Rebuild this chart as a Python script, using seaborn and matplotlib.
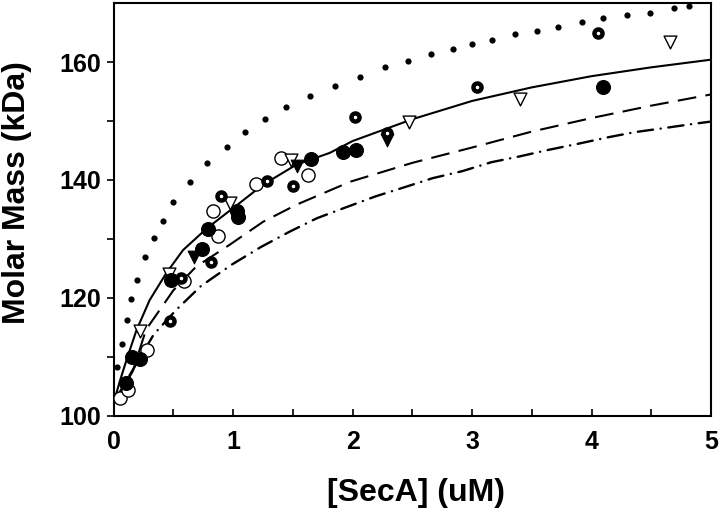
import matplotlib
matplotlib.use("Agg")
import matplotlib.pyplot as plt
import seaborn as sns

# fitted curves
solid_x = [0, 0.05, 0.106, 0.19, 0.30, 0.44, 0.58, 0.78, 1.055, 1.25, 1.53, 1.81, 2.0, 2.5, 3.0, 3.5, 4.0, 4.5, 5.0]
solid_y = [102.3, 105.8, 109.4, 114.5, 119.6, 124.2, 128.1, 131.8, 136.1, 139.2, 142.6, 144.6, 146.6, 150.3, 153.4, 155.7, 157.6, 159.1, 160.4]

dash_x = [0, 0.05, 0.16, 0.27, 0.50, 0.69, 0.97, 1.25, 1.53, 1.98, 2.5, 3.0, 3.5, 4.0, 4.5, 5.0]
dash_y = [102.3, 103.6, 107.6, 114.6, 121.3, 125.3, 129.0, 132.9, 135.8, 139.7, 142.9, 145.5, 148.2, 150.5, 152.6, 154.5]

dashdot_x = [0, 0.335, 0.52, 0.73, 0.985, 1.23, 1.47, 1.70, 1.95, 2.19, 2.44, 2.67, 2.92,
             3.16, 3.40, 3.64, 3.88, 4.13, 4.36, 4.61, 4.85, 5.0]
dashdot_y = [102.3, 113.8, 117.9, 122.0, 125.6, 128.6, 131.2, 133.5, 135.4, 137.2, 138.8, 140.3, 141.5,
             143.0, 144.0, 145.1, 146.1, 147.2, 148.1, 148.8, 149.5, 149.9]

dotted_x = [0.03, 0.073, 0.115, 0.148, 0.198, 0.265, 0.34, 0.41, 0.50, 0.64, 0.78, 0.95, 1.10, 1.27,
            1.44, 1.64, 1.85, 2.06, 2.27, 2.46, 2.66, 2.84, 3.0, 3.17, 3.36, 3.54, 3.72, 3.92,
            4.10, 4.30, 4.49, 4.69, 4.82]
dotted_y = [108.2, 112.1, 116.3, 119.8, 123.0, 127.0, 130.2, 133.1, 136.3, 139.7, 142.9, 145.6, 148.1, 150.4,
            152.3, 154.2, 156.0, 157.5, 159.1, 160.2, 161.4, 162.2, 163.1, 163.8, 164.7, 165.3, 166.0, 166.8,
            167.4, 168.0, 168.4, 169.1, 169.5]

# measured points
filled_x = [0.10, 0.15, 0.22, 0.48, 0.74, 0.79, 1.03, 1.04, 1.65, 1.92, 2.03, 4.10]
filled_y = [105.6, 109.9, 109.6, 123.0, 128.2, 131.6, 134.8, 133.7, 143.5, 144.7, 145.1, 155.8]

open_x = [0.05, 0.12, 0.28, 0.59, 0.83, 0.87, 1.19, 1.40, 1.63]
open_y = [103.0, 104.3, 111.1, 122.8, 134.7, 130.5, 139.3, 143.8, 140.9]

bull_x = [0.47, 0.56, 0.81, 0.90, 1.28, 1.50, 2.02, 2.29, 3.04, 4.05]
bull_y = [116.1, 123.4, 126.1, 137.2, 139.8, 138.9, 150.7, 147.9, 155.7, 164.9]

otri_x = [0.22, 0.46, 0.97, 1.48, 2.47, 3.40, 4.66]
otri_y = [114.3, 124.0, 136.1, 143.3, 149.9, 153.7, 163.4]

ftri_x = [0.67, 1.53, 2.29]
ftri_y = [126.9, 142.3, 146.7]

sns.set_style("ticks")
plt.rcParams['font.family'] = ['Liberation Sans', 'DejaVu Sans']
plt.rcParams.update({'text.color': 'k', 'axes.labelcolor': 'k',
                     'xtick.color': 'k', 'ytick.color': 'k', 'axes.edgecolor': 'k'})

fig = plt.figure(figsize=(7.2, 5.12), dpi=100)
ax = fig.add_axes([0.158, 0.188, 0.8295, 0.806])

sns.lineplot(x=solid_x, y=solid_y, ax=ax, color='k', lw=1.5, sort=False)
l2 = sns.lineplot(x=dash_x, y=dash_y, ax=ax, color='k', lw=1.5, sort=False).lines[-1]
l2.set_dashes((9, 4.5))
l3 = sns.lineplot(x=dashdot_x, y=dashdot_y, ax=ax, color='k', lw=1.7, sort=False).lines[-1]
l3.set_dashes((6.5, 3.2, 0.1, 3.2))
l3.set_dash_capstyle('round')
sns.scatterplot(x=dotted_x, y=dotted_y, ax=ax, color='k', s=20, linewidth=0)

sns.scatterplot(x=open_x, y=open_y, ax=ax, marker='o', s=90, facecolor='white',
                edgecolor='k', linewidth=1.0, zorder=3)
sns.scatterplot(x=otri_x, y=otri_y, ax=ax, marker='v', s=85, facecolor='white',
                edgecolor='k', linewidth=1.0, zorder=3)
sns.scatterplot(x=filled_x, y=filled_y, ax=ax, marker='o', s=100, color='k',
                edgecolor='k', zorder=4)
sns.scatterplot(x=ftri_x, y=ftri_y, ax=ax, marker='v', s=85, color='k',
                edgecolor='k', zorder=4)
sns.scatterplot(x=bull_x, y=bull_y, ax=ax, marker='o', s=34, facecolor='white',
                edgecolor='k', linewidth=3.2, zorder=5)

ax.set_xlim(0, 5)
ax.set_ylim(100, 170)
ax.set_xticks([0, 1, 2, 3, 4, 5])
ax.set_xticks([0.5, 1.5, 2.5, 3.5, 4.5], minor=True)
ax.set_yticks([100, 120, 140, 160])
ax.set_yticks([110, 130, 150], minor=True)
ax.tick_params(axis='x', which='both', direction='in', length=5, width=1.2, pad=10)
ax.tick_params(axis='y', which='both', direction='out', length=5, width=1.2, pad=4)
for lab in ax.get_xticklabels() + ax.get_yticklabels():
    lab.set_fontsize(18)
    lab.set_fontweight('bold')
for sp in ax.spines.values():
    sp.set_linewidth(1.5)
    sp.set_color('k')

ax.set_xlabel('[SecA] (uM)', fontsize=23, fontweight='bold')
ax.set_ylabel('Molar Mass (kDa)', fontsize=23, fontweight='bold')
ax.xaxis.set_label_coords(0.506, -0.152)
ax.yaxis.set_label_coords(-0.137, 0.54)

fig.savefig('out.png', dpi=100)
